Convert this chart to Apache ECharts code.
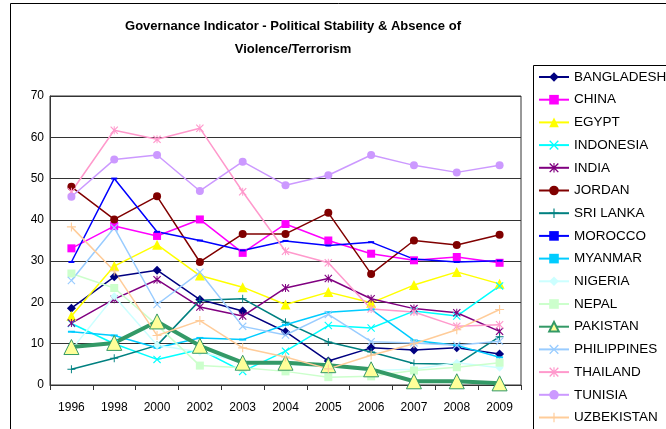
<!DOCTYPE html>
<html>
<head>
<meta charset="utf-8">
<script src="https://cdn.jsdelivr.net/npm/echarts@6/dist/echarts.min.js"></script>
<style>
  html, body { margin: 0; padding: 0; background: #fff; }
  #chart { width: 666px; height: 429px; }
</style>
</head>
<body>
<div id="chart"></div>
<script>
let chart = echarts.init(document.querySelector("#chart"))

// values
const years = ['1996', '1998', '2000', '2002', '2003', '2004', '2005', '2006', '2007', '2008', '2009']
const yTicks = [0, 10, 20, 30, 40, 50, 60, 70]

const bangladesh = [18.6, 26.2, 27.8, 20.7, 17.9, 12.9, 5.8, 9.0, 8.5, 9.0, 7.5]
const china = [33.1, 38.5, 36.1, 40.1, 32.0, 39.0, 35.0, 31.8, 30.2, 31.0, 29.6]
const egypt = [16.7, 28.8, 34.0, 26.5, 23.7, 19.5, 22.5, 19.9, 24.2, 27.4, 24.5]
const indonesia = [14.9, 10.0, 6.2, 8.6, 3.3, 8.2, 14.4, 13.8, 17.9, 16.7, 24.0]
const india = [15.0, 20.8, 25.5, 18.9, 16.7, 23.5, 25.8, 20.9, 18.5, 17.5, 13.0]
const jordan = [48.0, 40.1, 45.7, 29.8, 36.6, 36.6, 41.7, 26.9, 35.0, 33.9, 36.4]
const sriLanka = [3.8, 6.5, 9.6, 20.5, 20.9, 15.2, 10.4, 8.0, 5.2, 5.0, 11.7]
const morocco = [29.8, 50.0, 37.1, 35.0, 32.6, 34.9, 33.8, 34.6, 30.5, 29.8, 30.1]
const myanmar = [12.9, 12.0, 9.0, 11.4, 11.0, 14.6, 17.6, 18.3, 10.8, 9.6, 6.7]
const nigeria = [8.5, 21.5, 9.6, 8.0, 5.5, 5.0, 4.5, 3.5, 3.8, 5.4, 4.2]
const nepal = [27.0, 23.5, 14.5, 4.7, 4.2, 3.3, 1.9, 2.1, 3.5, 4.3, 5.4]
const pakistan = [9.2, 10.2, 15.4, 9.5, 5.4, 5.4, 4.8, 3.8, 0.9, 0.9, 0.4]
const philippines = [25.3, 38.1, 19.5, 27.3, 14.2, 12.1, 17.1, 10.5, 10.2, 9.6, 10.6]
const thailand = [46.8, 61.7, 59.5, 62.2, 46.8, 32.4, 29.6, 18.4, 17.7, 14.2, 14.6]
const tunisia = [45.6, 54.6, 55.7, 47.0, 54.1, 48.4, 50.8, 55.7, 53.2, 51.5, 53.2]
const uzbekistan = [38.3, 27.6, 12.0, 15.6, 9.0, 6.8, 3.9, 7.2, 10.0, 13.4, 18.3]

// marker shapes excel uses that echarts does not have
const xMark = 'path://M0,1L1,0L5,4L9,0L10,1L6,5L10,9L9,10L5,6L1,10L0,9L4,5Z'
const starMark = 'path://M0,1L1,0L5,4L9,0L10,1L6,5L10,9L9,10L5,6L1,10L0,9L4,5Z M4.4,0L5.6,0L5.6,10L4.4,10Z'
const plusMark = 'path://M4.4,0L5.6,0L5.6,4.4L10,4.4L10,5.6L5.6,5.6L5.6,10L4.4,10L4.4,5.6L0,5.6L0,4.4L4.4,4.4Z'
const dashMark = 'path://M0,0L10,0L10,3L0,3Z'

function line(name, data, color, symbol, size) {
    return {
        name: name,
        type: 'line',
        data: data,
        symbol: symbol,
        symbolSize: size,
        showAllSymbol: true,
        itemStyle: { color: color },
        lineStyle: { color: color, width: 1.5 },
        emphasis: { disabled: true },
        animation: false
    }
}

let series = [
    line('BANGLADESH', bangladesh, '#000080', 'diamond', 9),
    line('CHINA', china, '#FF00FF', 'rect', 8),
    line('EGYPT', egypt, '#FFFF00', 'triangle', 10),
    line('INDONESIA', indonesia, '#00FFFF', xMark, 8),
    line('INDIA', india, '#800080', starMark, 8),
    line('JORDAN', jordan, '#800000', 'circle', 8),
    line('SRI LANKA', sriLanka, '#008080', plusMark, 8),
    line('MOROCCO', morocco, '#0000FF', dashMark, [6, 2]),
    line('MYANMAR', myanmar, '#00CCFF', dashMark, [7, 2]),
    line('NIGERIA', nigeria, '#CCFFFF', 'diamond', 8),
    line('NEPAL', nepal, '#CCFFCC', 'rect', 8),
    {
        name: 'PAKISTAN',
        type: 'line',
        data: pakistan,
        symbol: 'triangle',
        symbolSize: 15,
        itemStyle: { color: '#FFFF99', borderColor: '#339966', borderWidth: 1 },
        lineStyle: { color: '#339966', width: 4 },
        emphasis: { disabled: true },
        animation: false
    },
    line('PHILIPPINES', philippines, '#99CCFF', xMark, 8),
    line('THAILAND', thailand, '#FF99CC', starMark, 8),
    line('TUNISIA', tunisia, '#CC99FF', 'circle', 8),
    line('UZBEKISTAN', uzbekistan, '#FFCC99', plusMark, 9)
]

let option = {
    backgroundColor: '#fff',
    textStyle: { fontFamily: 'Liberation Sans' },
    title: {
        text: 'Governance Indicator - Political Stability & Absence of\nViolence/Terrorism',
        left: 288,
        top: 10,
        textAlign: 'center',
        textStyle: { fontSize: 13, fontWeight: 'bold', color: '#000', lineHeight: 23, fontFamily: 'Liberation Sans' }
    },
    legend: {
        orient: 'vertical',
        left: 538,
        top: 70,
        height: 420,
        padding: 0,
        itemWidth: 30,
        itemHeight: 12,
        itemGap: 8.7,
        selectedMode: false,
        textStyle: { fontSize: 13.5, color: '#000', fontFamily: 'Liberation Sans' },
        data: series.map(s => s.name)
    },
    grid: {
        left: 50,
        right: 145,
        top: 96,
        bottom: 44,
        show: true,
        borderColor: '#333',
        borderWidth: 1
    },
    xAxis: {
        type: 'category',
        data: years,
        boundaryGap: true,
        axisLine: { lineStyle: { color: '#333', width: 1 } },
        axisTick: { show: true, alignWithLabel: false, length: 5, lineStyle: { color: '#333' } },
        axisLabel: { color: '#000', fontSize: 12, margin: 17, fontFamily: 'Liberation Sans' }
    },
    yAxis: {
        type: 'value',
        min: yTicks[0],
        max: yTicks[yTicks.length - 1],
        interval: 10,
        axisLine: { show: true, lineStyle: { color: '#333', width: 1 } },
        axisTick: { show: false },
        splitLine: { lineStyle: { color: '#333', width: 1 } },
        axisLabel: { color: '#000', fontSize: 12, margin: 6, fontFamily: 'Liberation Sans' }
    },
    graphic: [
        { type: 'rect', shape: { x: 10.5, y: 3.5, width: 700, height: 460 }, style: { fill: 'none', stroke: '#000', lineWidth: 1 }, silent: true },
        { type: 'rect', shape: { x: 533.5, y: 65.5, width: 200, height: 400 }, style: { fill: 'none', stroke: '#000', lineWidth: 1 }, silent: true }
    ],
    series: series
}
chart.setOption(option)

window.onresize = function () {
    chart.resize();
}
</script>
</body>
</html>
